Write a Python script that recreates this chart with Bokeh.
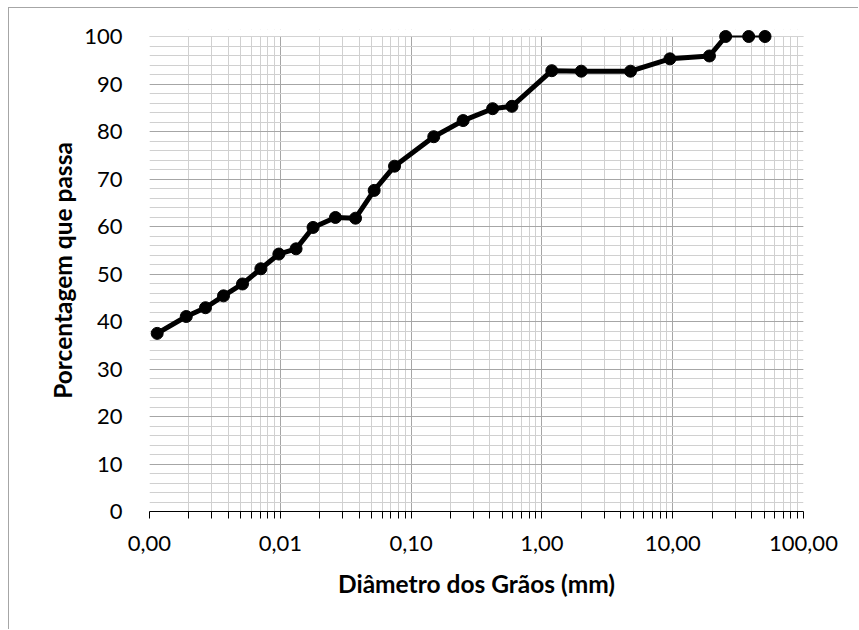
from bokeh.plotting import figure
from bokeh.embed import file_html
from bokeh.resources import INLINE
from bokeh.models import FixedTicker, CustomJSTickFormatter, Range1d, BoxAnnotation

# Grain size distribution (sieve + sedimentation)
diam_mm = [50.8, 38.1, 25.4, 19.1, 9.52, 4.76, 2.0, 1.19, 0.59, 0.42, 0.25,
           0.149, 0.0747, 0.0522, 0.0376, 0.0264, 0.0178, 0.0132, 0.00975,
           0.0071, 0.00514, 0.00368, 0.00268, 0.00191, 0.001145]
passing = [100, 100, 100, 95.9, 95.3, 92.7, 92.7, 92.8, 85.3, 84.8, 82.3,
           78.9, 72.7, 67.6, 61.75, 61.9, 59.8, 55.3, 54.2,
           51.1, 47.9, 45.4, 42.9, 41.05, 37.5]

x_major_ticks = [0.001, 0.01, 0.1, 1, 10, 100]
y_major_ticks = [0, 10, 20, 30, 40, 50, 60, 70, 80, 90, 100]
x_title = "Diâmetro dos Grãos (mm)"
y_title = "Porcentagem que passa"

x_minor_ticks = [k * d for d in x_major_ticks[:-1] for k in range(2, 10)]
y_minor_ticks = list(range(0, 101, 2))

Y_MAX = 100
PAD_PX = 7                      # room above the 100 % line for the markers
y_top = Y_MAX + PAD_PX * Y_MAX / 475.0

p = figure(width=850, height=622, x_axis_type="log",
           x_range=Range1d(0.001, 100), y_range=Range1d(0, y_top),
           output_backend="svg", toolbar_location=None,
           min_border_left=140, min_border_top=28 - PAD_PX,
           min_border_right=56, min_border_bottom=119)
p.styles = {"margin-left": "8px", "margin-top": "7px",
            "border-left": "1px solid #a6a6a6", "border-top": "1px solid #a6a6a6"}

p.outline_line_color = None
p.background_fill_color = "white"
p.border_fill_color = "white"

p.xaxis.ticker = FixedTicker(ticks=x_major_ticks, minor_ticks=x_minor_ticks)
p.yaxis.ticker = FixedTicker(ticks=y_major_ticks, minor_ticks=y_minor_ticks)
p.xgrid.ticker = p.xaxis.ticker
p.ygrid.ticker = p.yaxis.ticker

for g in (p.xgrid, p.ygrid):
    g.grid_line_color = "#a6a6a6"
    g.grid_line_width = 1
    g.minor_grid_line_color = "#d0d0d0"
    g.minor_grid_line_width = 1

# white band above the 100 % line hides the grid there
p.add_layout(BoxAnnotation(bottom=Y_MAX, fill_color="white", fill_alpha=1.0,
                           line_color=None, level="underlay"))

p.xaxis.formatter = CustomJSTickFormatter(code="return tick.toFixed(2).replace('.', ',');")

tick_font = "Lato"
for ax in (p.xaxis, p.yaxis):
    ax.major_label_text_font = tick_font
    ax.major_label_text_font_size = "22px"
    ax.major_label_text_color = "black"
    ax.axis_label_text_font = tick_font
    ax.axis_label_text_font_size = "24.5px"
    ax.axis_label_text_font_style = "bold"
    ax.axis_label_text_color = "black"

p.xaxis.axis_label = x_title
p.yaxis.axis_label = y_title

p.xaxis.axis_line_color = "black"
p.xaxis.axis_line_width = 1
p.xaxis.major_tick_in = 0
p.xaxis.major_tick_out = 7
p.xaxis.minor_tick_in = 0
p.xaxis.minor_tick_out = 7
p.xaxis.major_tick_line_color = "black"
p.xaxis.minor_tick_line_color = "black"
p.xaxis.major_label_standoff = 17
p.xaxis.axis_label_standoff = 15

p.yaxis.axis_line_color = None
p.yaxis.major_tick_line_color = None
p.yaxis.minor_tick_line_color = None
p.yaxis.major_tick_out = 0
p.yaxis.major_label_standoff = 23
p.yaxis.axis_label_standoff = 4

# thin segment across the top (coarse fractions all 100 %)
p.line(diam_mm[:3], passing[:3], line_color="black", line_width=2)
p.line(diam_mm[2:], passing[2:], line_color="black", line_width=5, line_join="round")
p.scatter(diam_mm, passing, size=12, color="black")

open("out.html", "w").write(file_html(p, INLINE))
